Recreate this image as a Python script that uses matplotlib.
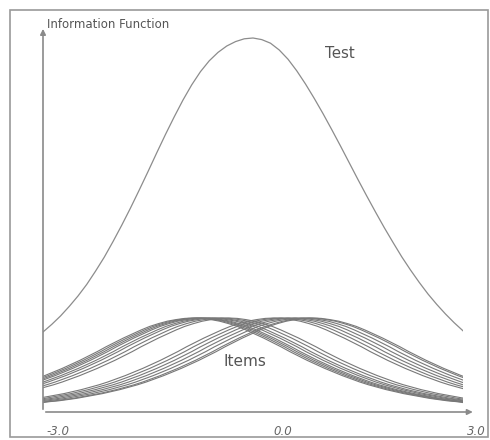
import numpy as np
import matplotlib
matplotlib.use("Agg")
import matplotlib.pyplot as plt
from matplotlib.patches import Rectangle

plt.rcParams['font.family'] = ['DejaVu Sans']

# test information, theta = -3 .. 3 step 0.125
test_theta = np.linspace(-3.0, 3.0, 49)
test_info = [2.00, 2.19, 2.40, 2.64, 2.90, 3.19, 3.52, 3.87, 4.26, 4.67, 5.10, 5.55,
             6.01, 6.48, 6.94, 7.38, 7.80, 8.18, 8.51, 8.78, 8.99, 9.15, 9.26, 9.33,
             9.35, 9.31, 9.22, 9.05, 8.82, 8.53, 8.20, 7.84, 7.46, 7.06, 6.65, 6.23,
             5.81, 5.40, 5.00, 4.61, 4.24, 3.88, 3.55, 3.24, 2.95, 2.69, 2.45, 2.23,
             2.03]

# one item curve, read as height vs distance from its peak (0 .. 4 step 0.125)
item_half = [2.35, 2.34, 2.31, 2.27, 2.21, 2.14, 2.05, 1.95, 1.85, 1.74, 1.63, 1.51,
             1.40, 1.29, 1.19, 1.09, 1.00, 0.91, 0.83, 0.75, 0.68, 0.62, 0.56, 0.51,
             0.46, 0.42, 0.38, 0.34, 0.31, 0.28, 0.26, 0.23, 0.21]
item_profile = item_half[::-1] + item_half[1:]
item_offsets = np.linspace(-4.0, 4.0, len(item_profile))

# peak positions of the items
item_peaks = [-0.85, -0.8, -0.75, -0.7, -0.62, -0.55, -0.45, -0.35,
              0.3, 0.4, 0.5, 0.6, 0.7, 0.8, 0.85]

tick_labels = ['-3.0', '0.0', '3.0']

W, H = 490, 440
fig = plt.figure(figsize=(W / 100, H / 100), dpi=100)
fig.patch.set_facecolor('white')

# outer frame
fig.patches.append(Rectangle((10 / W, 1 - 437 / H), 478 / W, 427 / H,
                             transform=fig.transFigure, fill=False,
                             edgecolor='#9a9a9a', lw=1.2))

ax = fig.add_axes([43 / W, 28 / H, 420 / W, 384 / H])
ax.set_xlim(-3, 3)
ax.set_ylim(0, 9.6)
ax.axis('off')

ax.plot(test_theta, test_info, color='#8c8c8c', lw=0.9)
for b in item_peaks:
    ax.plot(b + item_offsets, item_profile, color='#787878', lw=0.8)

# axes with arrows
arrow = dict(arrowstyle='-|>', color='#8a8a8a', lw=1.2, mutation_scale=8)
ax.annotate('', xy=(1.03, 0), xytext=(0, 0), xycoords='axes fraction',
            arrowprops=arrow, annotation_clip=False)
ax.annotate('', xy=(0, 1.005), xytext=(0, 0), xycoords='axes fraction',
            arrowprops=arrow, annotation_clip=False)

fig.text(47 / W, 1 - 24 / H, 'Information Function', fontsize=8.5,
         color='#555555', va='center', ha='left')
fig.text(325 / W, 1 - 53 / H, 'Test', fontsize=10.8, color='#555555',
         va='center', ha='left')
fig.text(245 / W, 1 - 361 / H, 'Items', fontsize=11, color='#555555',
         va='center', ha='center')

for lab, px in zip(tick_labels, [58, 283, 476]):
    fig.text(px / W, 1 - 431 / H, lab, fontsize=8.5, color='#666666',
             style='italic', va='center', ha='center')

fig.savefig('out.png', dpi=100)
